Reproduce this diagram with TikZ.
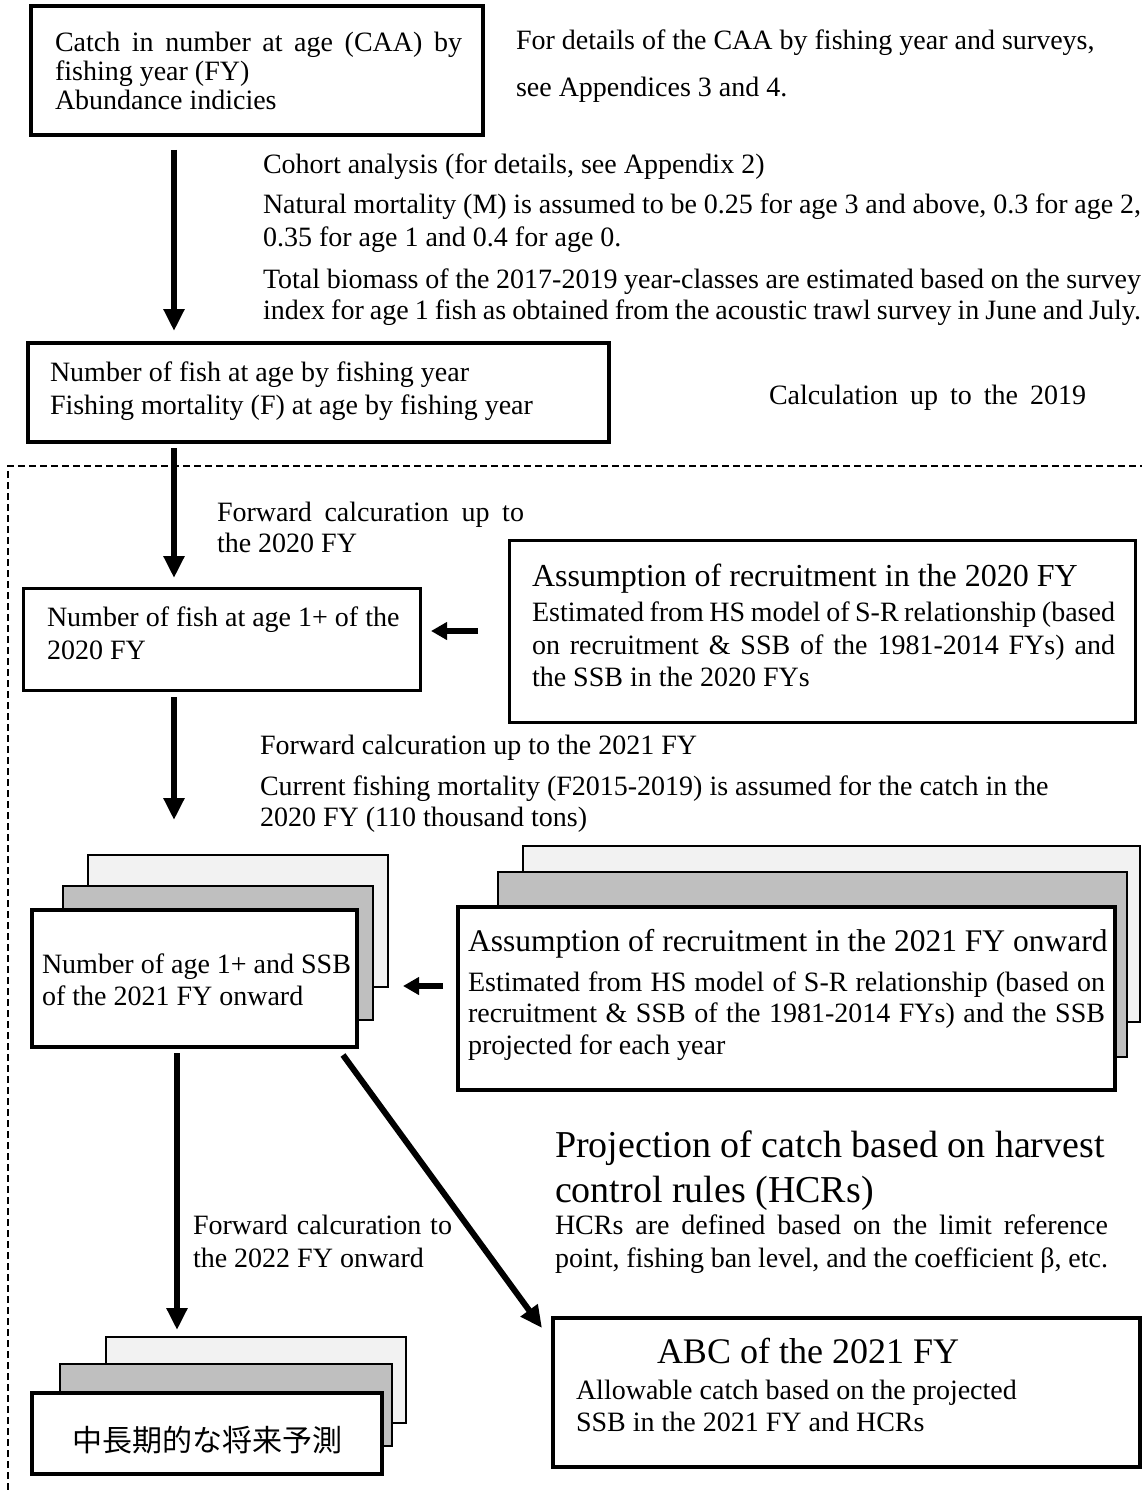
\documentclass[tikz,border=0pt]{standalone}
\usepackage{fontspec}
\setmainfont{Liberation Serif}
\newfontfamily\jpfont{Noto Sans CJK JP}
\usetikzlibrary{arrows.meta}
\newcommand\fsz[1]{\fontsize{#1}{#1}\selectfont}
\newcommand\jl[2]{\makebox[#1][s]{#2}}
\definecolor{lightbk}{HTML}{F2F2F2}
\definecolor{graybk}{HTML}{BFBFBF}
\tikzset{
  boxn/.style={draw, anchor=north west, inner sep=0pt, outer sep=0pt, fill=white},
  thickbox/.style={boxn, line width=3.5pt},
  midbox/.style={boxn, line width=3pt},
  lightbox/.style={boxn, line width=2pt, fill=lightbk},
  graybox/.style={boxn, line width=2pt, fill=graybk},
  txt/.style={anchor=base west, inner sep=0pt, outer sep=0pt, font=\fsz{28}},
  arr/.style={line width=6pt, -{Triangle[width=20pt,length=22pt]}},
  arrs/.style={line width=6pt, -{Triangle[width=17pt,length=16pt]}},
  dashline/.style={line width=1.8pt, dash pattern=on 7pt off 4pt}
}
\begin{document}
\begin{tikzpicture}[x=1pt,y=-1pt]
\useasboundingbox (0,0) rectangle (1142,1490);
\fill[white] (0,0) rectangle (1142,1490);
% dashed region
\draw[dashline] (8,1490) -- (8,466) -- (1142,466);
% boxes
\node[thickbox, minimum width=452pt, minimum height=129pt] (b1) at (31,6) {};
\node[thickbox, minimum width=581pt, minimum height=99pt] (b2) at (28,343) {};
\node[midbox, minimum width=397pt, minimum height=102pt] (b3) at (23,588) {};
\node[midbox, minimum width=626pt, minimum height=182pt] (b4) at (509,540) {};
\node[lightbox, minimum width=300pt, minimum height=132pt] (sA1) at (88,855) {};
\node[graybox, minimum width=310pt, minimum height=134pt] (sA2) at (63,886) {};
\node[thickbox, minimum width=325pt, minimum height=137pt] (sA3) at (32,910) {};
\node[lightbox, minimum width=617pt, minimum height=176pt] (sB1) at (523,846) {};
\node[graybox, minimum width=629pt, minimum height=185pt] (sB2) at (498,872) {};
\node[thickbox, minimum width=657pt, minimum height=183pt] (sB3) at (458,907) {};
\node[thickbox, minimum width=587pt, minimum height=149pt] (abc) at (553,1318) {};
\node[lightbox, minimum width=300pt, minimum height=86pt] (sC1) at (106,1337) {};
\node[graybox, minimum width=332pt, minimum height=82pt] (sC2) at (60,1364) {};
\node[thickbox, minimum width=350pt, minimum height=81pt] (sC3) at (32,1393) {};
% texts
\node[txt] (t1a) at (55,52) {\jl{407pt}{Catch in number at age (CAA) by}};
\node[txt] (t1b) at (55,81) {fishing year (FY)};
\node[txt] (t1c) at (55,110) {Abundance indicies};
\node[txt] (n1a) at (516,50) {For details of the CAA by fishing year and surveys,};
\node[txt] (n1b) at (516,97) {see Appendices 3 and 4.};
\node[txt] (c1) at (263,174) {Cohort analysis (for details, see Appendix 2)};
\node[txt] (c2) at (263,214) {\jl{878pt}{Natural mortality (M) is assumed to be 0.25 for age 3 and above, 0.3 for age 2,}};
\node[txt] (c3) at (263,246) {0.35 for age 1 and 0.4 for age 0.};
\node[txt] (c4) at (263,288) {\jl{878pt}{Total biomass of the 2017-2019 year-classes are estimated based on the survey}};
\node[txt] (c5) at (263,319) {\jl{878pt}{index for age 1 fish as obtained from the acoustic trawl survey in June and July.}};
\node[txt] (b2a) at (50,381) {Number of fish at age by fishing year};
\node[txt] (b2b) at (50,414) {Fishing mortality (F) at age by fishing year};
\node[txt] (calc) at (769,404) {\jl{317pt}{Calculation up to the 2019}};
\node[txt] (f1) at (217,521) {\jl{307pt}{Forward calcuration up to}};
\node[txt] (f2) at (217,552) {the 2020 FY};
\node[txt] (b3a) at (47,626) {Number of fish at age 1+ of the};
\node[txt] (b3b) at (47,659) {2020 FY};
\node[txt, font=\fsz{32}] (b4t) at (532,586) {Assumption of recruitment in the 2020 FY};
\node[txt] (b4a) at (532,621) {\jl{583pt}{Estimated from HS model of S-R relationship (based}};
\node[txt] (b4b) at (532,654) {\jl{583pt}{on recruitment \& SSB of the 1981-2014 FYs) and}};
\node[txt] (b4c) at (532,686) {the SSB in the 2020 FYs};
\node[txt] (g1) at (260,754) {Forward calcuration up to the 2021 FY};
\node[txt] (g2) at (260,795) {Current fishing mortality (F2015-2019) is assumed for the catch in the};
\node[txt] (g3) at (260,826) {2020 FY (110 thousand tons)};
\node[txt] (sAa) at (42,973) {Number of age 1+ and SSB};
\node[txt] (sAb) at (42,1005) {of the 2021 FY onward};
\node[txt, font=\fsz{31.5}] (sBt) at (468,951) {Assumption of recruitment in the 2021 FY onward};
\node[txt] (sBa) at (468,991) {\jl{637pt}{Estimated from HS model of S-R relationship (based on}};
\node[txt] (sBb) at (468,1022) {\jl{637pt}{recruitment \& SSB of the 1981-2014 FYs) and the SSB}};
\node[txt] (sBc) at (468,1054) {projected for each year};
\node[txt, font=\fsz{38}] (p1) at (555,1157) {Projection of catch based on harvest};
\node[txt, font=\fsz{38}] (p2) at (555,1202) {control rules (HCRs)};
\node[txt] (p3) at (555,1234) {\jl{553pt}{HCRs are defined based on the limit reference}};
\node[txt] (p4) at (555,1267) {\jl{553pt}{point, fishing ban level, and the coefficient β, etc.}};
\node[txt] (h1) at (193,1234) {\jl{259pt}{Forward calcuration to}};
\node[txt] (h2) at (193,1267) {the 2022 FY onward};
\node[txt, anchor=base, font=\fsz{36}] (abct) at (808,1363) {ABC of the 2021 FY};
\node[txt] (abca) at (576,1399) {Allowable catch based on the projected};
\node[txt] (abcb) at (576,1431) {SSB in the 2021 FY and HCRs};
\node[txt, anchor=base, font=\fsz{30}\jpfont] (jp) at (207,1451) {中長期的な将来予測};
% arrows
\coordinate (xA) at (174,0);
\coordinate (xB) at (177,0);
\draw[arr, shorten <=15pt, shorten >=12pt] (b1.south -| xA) -- (b2.north -| xA);
\draw[arr, shorten <=6pt, shorten >=10pt] (b2.south -| xA) -- (b3.north -| xA);
\draw[arr, shorten <=7pt, shorten >=35pt] (b3.south -| xA) -- (sA1.north -| xA);
\draw[arr, shorten <=6pt, shorten >=7pt] (sA3.south -| xB) -- (sC1.north -| xB);
\draw[arr] ([xshift=-14pt,yshift=-8pt]sA3.south east) -- ([xshift=-11pt,yshift=-10pt]abc.north west);
\draw[arrs, shorten <=31pt, shorten >=11pt] (b4.west) -- (b4.west -| b3.east);
\coordinate[yshift=12.5pt] (yB) at (sB3.west);
\draw[arrs, shorten <=15pt, shorten >=15pt] (yB) -- (yB -| sA1.east);
\end{tikzpicture}
\end{document}
